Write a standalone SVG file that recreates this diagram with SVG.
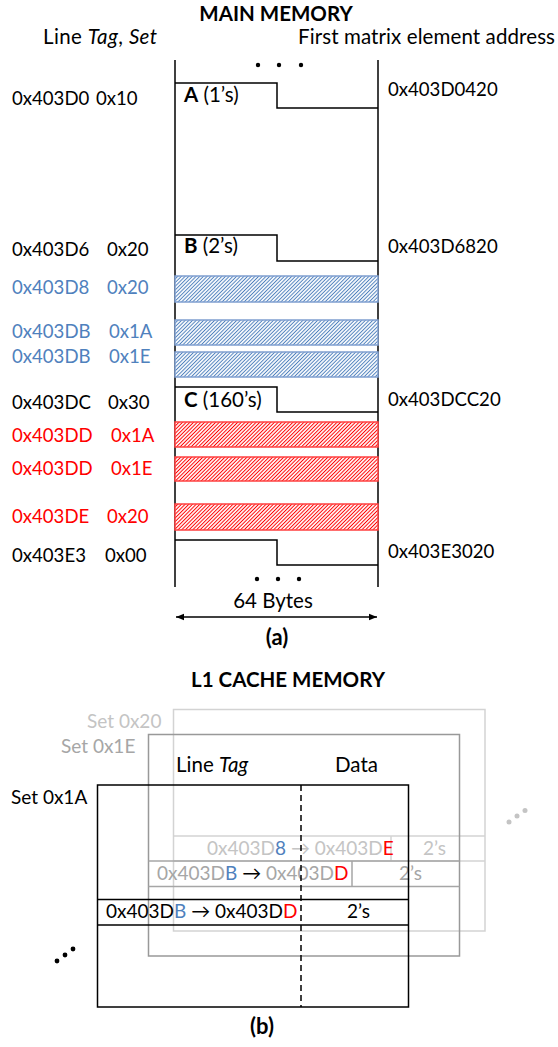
<svg xmlns="http://www.w3.org/2000/svg" width="558" height="1047" viewBox="0 0 558 1047">
<style>
text{font-family:Lato,"Open Sans","DejaVu Sans",sans-serif;font-size:19px;fill:#000}
.w{font-size:20.5px}
.hx{font-size:18.6px}
.cap{font-size:22px}
.b{font-weight:bold}
.i{font-style:italic}
.blue{fill:#4F81BD}
.red{fill:#FF0000}
.g1{fill:#A6A6A6}
.g2{fill:#C4C4C4}
.ln{fill:none;stroke:#000;stroke-width:1.5}
.hb{fill:url(#hatchB);stroke:#7F9FD0;stroke-width:1.5}
.hr{fill:url(#hatchR);stroke:#FF4040;stroke-width:1.5}
</style>
<defs>
<pattern id="hatchB" patternUnits="userSpaceOnUse" width="2.6" height="2.6" patternTransform="rotate(45)">
<rect width="2.6" height="2.6" fill="#fff"/><line x1="1.3" y1="0" x2="1.3" y2="2.6" stroke="#4F81BD" stroke-width="1"/>
</pattern>
<pattern id="hatchR" patternUnits="userSpaceOnUse" width="2.6" height="2.6" patternTransform="rotate(45)">
<rect width="2.6" height="2.6" fill="#fff"/><line x1="1.3" y1="0" x2="1.3" y2="2.6" stroke="#FF0000" stroke-width="1"/>
</pattern>
<marker id="ah" viewBox="0 0 10 10" refX="10" refY="5" markerWidth="8" markerHeight="8" markerUnits="userSpaceOnUse" orient="auto-start-reverse">
<path d="M0,1 L10,5 L0,9 z" fill="#000"/>
</marker>
</defs>

<g id="main-memory">
<text class="b w" x="276" y="21" text-anchor="middle">MAIN MEMORY</text>
<text class="w" x="43" y="44" textLength="114">Line <tspan class="i">Tag</tspan>, <tspan class="i">Set</tspan></text>
<text class="w" x="298" y="44" textLength="257">First matrix element address</text>
<line class="ln" x1="175" y1="60" x2="175" y2="587"/>
<line class="ln" x1="378" y1="60" x2="378" y2="587"/>
<circle cx="258" cy="65" r="2.2"/><circle cx="279" cy="65" r="2.2"/><circle cx="301" cy="65" r="2.2"/>
<circle cx="257" cy="579" r="2.2"/><circle cx="278" cy="579" r="2.2"/><circle cx="299" cy="579" r="2.2"/>
</g>

<g id="block-A">
<path class="ln" d="M175,83 H277 V108 H378"/>
<text class="w" x="184" y="102"><tspan class="b">A</tspan> (1’s)</text>
<text class="hx" x="12" y="105">0x403D0</text><text class="hx" x="96" y="105">0x10</text>
<text class="hx" x="388" y="96">0x403D0420</text>
</g>

<g id="block-B">
<path class="ln" d="M175,235 H277 V261 H378"/>
<text class="w" x="184" y="253"><tspan class="b">B</tspan> (2’s)</text>
<text class="hx" x="12" y="256">0x403D6</text><text class="hx" x="107" y="256">0x20</text>
<text class="hx" x="388" y="253">0x403D6820</text>
</g>

<g id="line-403D8">
<rect class="hb" x="175" y="276" width="203" height="26"/>
<text class="hx blue" x="12" y="294">0x403D8</text><text class="hx blue" x="107" y="294">0x20</text>
</g>
<g id="line-403DB-1A">
<rect class="hb" x="175" y="320" width="203" height="25"/>
<text class="hx blue" x="12" y="338">0x403DB</text><text class="hx blue" x="109" y="338">0x1A</text>
</g>
<g id="line-403DB-1E">
<rect class="hb" x="175" y="352" width="203" height="25"/>
<text class="hx blue" x="12" y="363">0x403DB</text><text class="hx blue" x="109" y="363">0x1E</text>
</g>

<g id="block-C">
<path class="ln" d="M175,387 H277 V412 H378"/>
<text class="w" x="184" y="407"><tspan class="b">C</tspan> (160’s)</text>
<text class="hx" x="12" y="409">0x403DC</text><text class="hx" x="108" y="409">0x30</text>
<text class="hx" x="388" y="406">0x403DCC20</text>
</g>

<g id="line-403DD-1A">
<rect class="hr" x="175" y="422" width="203" height="25"/>
<text class="hx red" x="12" y="442">0x403DD</text><text class="hx red" x="111" y="442">0x1A</text>
</g>
<g id="line-403DD-1E">
<rect class="hr" x="175" y="457" width="203" height="24"/>
<text class="hx red" x="12" y="475">0x403DD</text><text class="hx red" x="111" y="475">0x1E</text>
</g>
<g id="line-403DE">
<rect class="hr" x="175" y="504" width="203" height="26"/>
<text class="hx red" x="12" y="523">0x403DE</text><text class="hx red" x="107" y="523">0x20</text>
</g>

<g id="block-E3">
<path class="ln" d="M175,540 H277 V565 H378"/>
<text class="hx" x="12" y="562">0x403E3</text><text class="hx" x="105" y="562">0x00</text>
<text class="hx" x="388" y="558">0x403E3020</text>
</g>

<g id="connectors">
<line x1="176" y1="617" x2="377" y2="617" stroke="#000" stroke-width="1.5" marker-start="url(#ah)" marker-end="url(#ah)"/>
</g>
<text class="w" x="273" y="608" text-anchor="middle">64 Bytes</text>
<text class="b cap" x="277" y="645" text-anchor="middle">(a)</text>

<text class="b w" x="288" y="687" text-anchor="middle">L1 CACHE MEMORY</text>

<g id="set-0x20">
<rect x="173.5" y="709.5" width="311.5" height="221.5" fill="none" stroke="#D3D3D3" stroke-width="1.5"/>
<line x1="173.5" y1="836" x2="485" y2="836" stroke="#D3D3D3" stroke-width="1.5"/>
<line x1="173.5" y1="861" x2="485" y2="861" stroke="#D3D3D3" stroke-width="1.5"/>
<line x1="391" y1="836" x2="391" y2="861" stroke="#D3D3D3" stroke-width="1.5"/>
<text class="g2" x="87" y="728">Set 0x20</text>
<text class="g2" x="207" y="855">0x403D<tspan class="blue">8</tspan> → 0x403D<tspan class="red">E</tspan></text>
<text class="g2" x="423" y="855">2’s</text>
</g>

<g id="set-0x1E">
<rect x="148.5" y="734.5" width="311" height="221.5" fill="none" stroke="#999" stroke-width="1.5"/>
<line x1="148.5" y1="861" x2="459.5" y2="861" stroke="#A6A6A6" stroke-width="1.5"/>
<line x1="148.5" y1="886.5" x2="459.5" y2="886.5" stroke="#A6A6A6" stroke-width="1.5"/>
<line x1="352" y1="861" x2="352" y2="886.5" stroke="#A6A6A6" stroke-width="1.5"/>
<text class="g1" x="61" y="753">Set 0x1E</text>
<text class="g1" x="157" y="880">0x403D<tspan class="blue">B</tspan> <tspan fill="#000">→</tspan> 0x403D<tspan class="red">D</tspan></text>
<text class="g1" x="399" y="880">2’s</text>
</g>

<g id="set-0x1A">
<rect x="97.5" y="785" width="311" height="222" fill="none" stroke="#000" stroke-width="1.5"/>
<line x1="97.5" y1="899.5" x2="408.5" y2="899.5" stroke="#000" stroke-width="1.5"/>
<line x1="97.5" y1="925" x2="408.5" y2="925" stroke="#000" stroke-width="1.5"/>
<line x1="301" y1="785" x2="301" y2="1007" stroke="#000" stroke-width="1.5" stroke-dasharray="6,4"/>
<text x="11" y="804">Set 0x1A</text>
<text class="w" x="176" y="772">Line <tspan class="i">Tag</tspan></text>
<text class="w" x="335" y="772">Data</text>
<text x="106" y="918">0x403D<tspan class="blue">B</tspan> → 0x403D<tspan class="red">D</tspan></text>
<text x="347" y="918">2’s</text>
</g>

<g id="more-sets">
<circle cx="509" cy="822" r="2.5" fill="#C4C4C4"/><circle cx="517" cy="816" r="2.5" fill="#C4C4C4"/><circle cx="525" cy="810.5" r="2.5" fill="#C4C4C4"/>
<circle cx="57" cy="961" r="2.4"/><circle cx="65" cy="955" r="2.4"/><circle cx="73" cy="949" r="2.4"/>
</g>

<text class="b cap" x="262" y="1034" text-anchor="middle">(b)</text>
</svg>
